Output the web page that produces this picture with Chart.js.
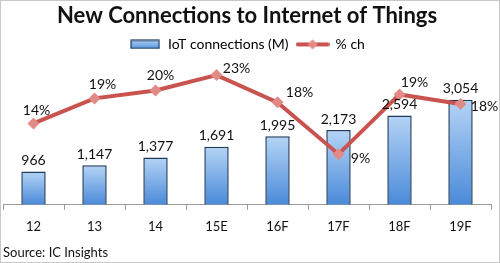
<!DOCTYPE html>
<html lang="en">
  <head>
    <meta charset="UTF-8" />
    <title>New Connections to Internet of Things</title>
    <style>
      html, body { margin: 0; padding: 0; background: #fff; }
      .wrap {
        width: 498px;
        height: 261px;
        border: 1px solid #c8c8c8;
        position: relative;
      }
    </style>
  </head>
  <body>
    <div class="wrap">
      <canvas id="chart" width="498" height="261"></canvas>
    </div>

    <script src="https://cdn.jsdelivr.net/npm/chart.js"></script>

    <script>
      const categories = ['12', '13', '14', '15E', '16F', '17F', '18F', '19F'];
      const connections = [966, 1147, 1377, 1691, 1995, 2173, 2594, 3054];
      const pctChange = [14.3, 18.7, 20.1, 22.8, 18.0, 8.9, 19.4, 17.7];
      const pctLabels = ['14%', '19%', '20%', '23%', '18%', '9%', '19%', '18%'];

      // label centre offset from its point, as placed by hand in the original
      const pctLabelShift = [[3, -13], [8, -14], [5, -15], [20, -7], [22, -10], [22, 4], [15, -12], [24, 2]];

      const FONT = 'Lato, "Open Sans", sans-serif';
      const RED = '#c9534f';

      // legend swatches
      function barSwatch() {
        const c = document.createElement('canvas');
        c.width = 30; c.height = 10;
        const g = c.getContext('2d');
        const gr = g.createLinearGradient(0, 0, 0, 10);
        gr.addColorStop(0, '#b5d4f6');
        gr.addColorStop(1, '#4f8fdb');
        g.fillStyle = gr;
        g.fillRect(1, 1, 28, 8);
        g.strokeStyle = '#1f3b5c';
        g.lineWidth = 1.2;
        g.strokeRect(1, 1, 28, 8);
        return c;
      }
      function lineSwatch() {
        const c = document.createElement('canvas');
        c.width = 34; c.height = 12;
        const g = c.getContext('2d');
        g.strokeStyle = RED;
        g.lineWidth = 4;
        g.lineCap = 'round';
        g.beginPath(); g.moveTo(2, 6); g.lineTo(32, 6); g.stroke();
        g.fillStyle = '#e28a86';
        g.beginPath();
        g.moveTo(17, 1); g.lineTo(22, 6); g.lineTo(17, 11); g.lineTo(12, 6);
        g.closePath(); g.fill();
        return c;
      }

      const valueLabels = {
        id: 'valueLabels',
        afterDatasetsDraw(chart) {
          const ctx = chart.ctx;
          ctx.save();
          ctx.font = '14px ' + FONT;
          ctx.fillStyle = '#111';
          ctx.textBaseline = 'middle';
          ctx.textAlign = 'center';

          chart.getDatasetMeta(0).data.forEach((bar, i) => {
            ctx.fillText(connections[i].toLocaleString('en-US'), bar.x, bar.y - 11);
          });

          chart.getDatasetMeta(1).data.forEach((pt, i) => {
            const [dx, dy] = pctLabelShift[i];
            ctx.fillText(pctLabels[i], pt.x + dx, pt.y + dy);
          });
          ctx.restore();
        },
      };

      new Chart(document.getElementById('chart'), {
        type: 'bar',
        data: {
          labels: categories,
          datasets: [
            {
              label: 'IoT connections (M)',
              data: connections,
              yAxisID: 'y',
              order: 2,
              barPercentage: 0.4,
              categoryPercentage: 1,
              borderColor: '#1f3b5c',
              borderWidth: 1.5,
              backgroundColor(ctx) {
                const chart = ctx.chart;
                if (!chart.chartArea || ctx.raw === undefined) return '#7fb0ea';
                const top = chart.scales.y.getPixelForValue(ctx.raw);
                const bottom = chart.chartArea.bottom;
                const gr = chart.ctx.createLinearGradient(0, top, 0, bottom);
                gr.addColorStop(0, '#b5d4f6');
                gr.addColorStop(1, '#4a8ad9');
                return gr;
              },
            },
            {
              type: 'line',
              label: '% ch',
              data: pctChange,
              yAxisID: 'y1',
              order: 1,
              borderColor: RED,
              borderWidth: 4,
              pointStyle: 'rectRot',
              pointRadius: 6,
              pointBackgroundColor: '#e28a86',
              pointBorderColor: '#e28a86',
              pointBorderWidth: 0,
              tension: 0,
            },
          ],
        },
        options: {
          responsive: false,
          animation: false,
          layout: { autoPadding: false, padding: { left: 2, right: 8, top: 0, bottom: 0 } },
          plugins: {
            title: {
              display: true,
              text: 'New Connections to Internet of Things',
              font: { family: FONT, size: 22, weight: 'bold' },
              color: '#111',
              padding: { top: 2, bottom: 0 },
            },
            legend: {
              display: true,
              labels: {
                usePointStyle: true,
                pointStyleWidth: 32,
                font: { family: FONT, size: 14 },
                color: '#111',
                padding: 8,
                generateLabels() {
                  return [
                    { text: 'IoT connections (M)', pointStyle: barSwatch(), datasetIndex: 0 },
                    { text: '% ch', pointStyle: lineSwatch(), datasetIndex: 1 },
                  ];
                },
              },
            },
            subtitle: {
              display: true,
              position: 'bottom',
              align: 'start',
              text: 'Source: IC Insights',
              font: { family: FONT, size: 13 },
              color: '#111',
              padding: { top: 2, bottom: 1 },
            },
            tooltip: { enabled: false },
          },
          scales: {
            x: {
              afterFit(scale) {
                // no extra side room for the category labels
                scale.paddingLeft = 0;
                scale.paddingRight = 0;
              },
              grid: {
                offset: true,
                drawOnChartArea: false,
                tickLength: 5,
                color: '#999',
              },
              border: { display: true, color: '#999' },
              ticks: { font: { family: FONT, size: 13 }, color: '#111', padding: 9 },
            },
            y: { display: false, min: 0, max: 4170 },
            y1: { display: false, min: 0, max: 25.2 },
          },
        },
        plugins: [valueLabels],
      });
    </script>
  </body>
</html>
